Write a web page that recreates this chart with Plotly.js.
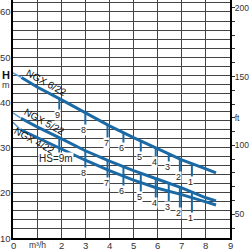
<!DOCTYPE html>
<html><head><meta charset="utf-8">
<script src="https://cdn.plot.ly/plotly-3.0.1.min.js"></script>
<style>html,body{margin:0;padding:0;background:#fff;}#c{width:250px;height:250px;}</style>
</head><body><div id="c"></div>
<script>
// Flow Q (m3/h) and head H (m)
const q6 = [0.35, 1, 2, 3, 4, 5, 6, 7, 8, 8.42];
const h6 = [45.5, 43.4, 40.6, 37.7, 34.8, 32.2, 29.8, 27.3, 25.3, 24.4];
const q6d = [0, 0.35];
const h6d = [46.5, 45.5];

const q5 = [0.33, 1, 2, 3, 4, 5, 6, 7, 8, 8.42];
const h5 = [36.5, 34.6, 32.0, 29.3, 27.0, 24.9, 23.0, 21.1, 18.9, 18.2];
const q5d = [0, 0.33];
const h5d = [37.7, 36.5];

const q4 = [0.3, 1, 2, 3, 4, 5, 6, 7, 8, 8.42];
const h4 = [34.0, 32.2, 29.8, 27.2, 24.9, 22.8, 21.0, 19.6, 18.0, 17.3];
const q4d = [0, 0.3];
const h4d = [35.6, 34.0];

// HS (suction height) markers
const hsLabels = ['9', '8', '7', '6', '5', '4', '3', '2', '1'];
const hsQ = [1.92, 3.0, 3.92, 4.58, 5.3, 5.92, 6.46, 6.92, 7.42];
const hsBottom6 = [38.3, 35.0, 32.1, 31.0, 29.0, 27.9, 26.8, 24.6, 23.5];
const hsBottom45 = [28.8, 25.5, 23.3, 21.5, 20.2, 18.8, 18.0, 16.6, 15.5];

const curveNames = ['NGX 6/22', 'NGX 5/22', 'NGX 4/22'];
const xTickVals = [0, 1, 2, 3, 4, 5, 6, 7, 8, 9];
const xTickText = ['0', 'm³/h', '2', '3', '4', '5', '6', '7', '8', '9'];
const yLabelVals = [10, 20, 30, 40, 50, 60];
const ftLabelVals = [50, 100, 120, 150, 200];
const ftLabelText = ['50', '100', 'ft', '150', '200'];

const M2FT = 3.28084;
const YMIN = 10, YMAX = 62.65;
const BLUE = '#1b6aa5';
const DASHBLUE = '#5b9bd0';
const FONT = 'Liberation Sans, Arial, sans-serif';

function interp(xs, ys, x) {
  for (let i = 0; i < xs.length - 1; i++) {
    if (x >= xs[i] && x <= xs[i + 1]) {
      const t = (x - xs[i]) / (xs[i + 1] - xs[i]);
      return ys[i] + t * (ys[i + 1] - ys[i]);
    }
  }
  return ys[ys.length - 1];
}

const traces = [];
[[q6, h6, q6d, h6d], [q5, h5, q5d, h5d], [q4, h4, q4d, h4d]].forEach(([qs, hs, qd, hd]) => {
  traces.push({x: qd, y: hd, mode: 'lines', line: {color: DASHBLUE, width: 1.5, dash: 'dash'}, hoverinfo: 'skip', showlegend: false, cliponaxis: false});
  traces.push({x: qs, y: hs, mode: 'lines', line: {color: BLUE, width: 3}, hoverinfo: 'skip', showlegend: false});
});

// marker drops
const dropX = [], dropY = [];
hsQ.forEach((q, i) => {
  dropX.push(q, q, null); dropY.push(interp(q6, h6, q), hsBottom6[i], null);
  dropX.push(q, q, null); dropY.push(interp(q5, h5, q), hsBottom45[i], null);
});
traces.push({x: dropX, y: dropY, mode: 'lines', line: {color: BLUE, width: 2}, hoverinfo: 'skip', showlegend: false});

// ft axis dummy trace
traces.push({x: [0], y: [YMIN * M2FT], yaxis: 'y2', mode: 'markers', marker: {opacity: 0}, hoverinfo: 'skip', showlegend: false});

const yGridVals = [];
for (let v = 10; v <= 62; v += 2) yGridVals.push(v);
const ftVals = [];
for (let v = 40; v <= 200; v += 10) ftVals.push(v);
const ftText = ftVals.map(v => { const k = ftLabelVals.indexOf(v); return k >= 0 ? ftLabelText[k] : ''; });

const annotations = [];
// left axis labels
yLabelVals.forEach(v => annotations.push({xref: 'paper', x: 0, y: v, xanchor: 'right', yanchor: 'middle', xshift: -1, text: String(v),
  showarrow: false, borderpad: 0, font: {family: FONT, size: 9.5, color: '#333'}}));
// bottom axis labels
xTickVals.forEach((v, i) => annotations.push({x: v, yref: 'paper', y: 0, xanchor: 'center', yanchor: 'top', yshift: -1, text: xTickText[i],
  showarrow: false, borderpad: 0, font: {family: FONT, size: i === 1 ? 8.5 : 9.5, color: '#333'}}));

hsLabels.forEach((lab, i) => {
  annotations.push({x: hsQ[i], y: hsBottom6[i], text: lab, showarrow: false, xanchor: 'center', yanchor: 'top', xshift: -1.5, yshift: 1,
    font: {family: FONT, size: 9, color: '#222'}, bgcolor: '#fff', borderpad: 0});
  annotations.push({x: hsQ[i], y: hsBottom45[i], text: i === 0 ? 'HS=9m' : lab, showarrow: false, xanchor: 'center', yanchor: 'top',
    xshift: i === 0 ? -3 : -1.5, yshift: 1,
    font: {family: FONT, size: i === 0 ? 10 : 9, color: '#222'}, bgcolor: '#fff', borderpad: 0});
});
const namePos = [[1.375, 44.3], [1.29, 35.7], [0.875, 31.5]];
curveNames.forEach((n, i) => {
  annotations.push({x: namePos[i][0], y: namePos[i][1], text: n, showarrow: false, textangle: 29,
    font: {family: FONT, size: 10, color: '#111'}});
});
annotations.push({xref: 'paper', x: 0, y: 46.1, xanchor: 'center', xshift: -7, text: '<b>H</b>', showarrow: false,
  font: {family: FONT, size: 11, color: '#111'}});
annotations.push({xref: 'paper', x: 0, y: 43.9, xanchor: 'center', xshift: -7, text: 'm', showarrow: false,
  font: {family: FONT, size: 9, color: '#333'}});
annotations.push({xref: 'paper', yref: 'paper', x: 0.04, y: -0.033, yanchor: 'top', text: '<b>Q</b>', showarrow: false, borderpad: 0,
  font: {family: FONT, size: 13, color: '#111'}});

const layout = {
  width: 250, height: 250,
  margin: {l: 13, r: 20, t: 0, b: 12, pad: 0},
  paper_bgcolor: '#fff', plot_bgcolor: '#fff',
  font: {family: FONT, size: 10, color: '#333'},
  showlegend: false,
  xaxis: {range: [0, 9], tickmode: 'array', tickvals: xTickVals, showticklabels: false, showgrid: true, gridcolor: '#444', gridwidth: 1,
    showline: true, linecolor: '#000', linewidth: 2, zeroline: false, ticks: '', fixedrange: true, automargin: false},
  yaxis: {range: [YMIN, YMAX], tickmode: 'array', tickvals: yGridVals, showticklabels: false, showgrid: true, gridcolor: '#444', gridwidth: 1,
    showline: true, linecolor: '#000', linewidth: 2, zeroline: false, ticks: '', fixedrange: true, automargin: false},
  yaxis2: {overlaying: 'y', side: 'right', range: [YMIN * M2FT, YMAX * M2FT], tickmode: 'array', tickvals: ftVals, ticktext: ftText,
    showgrid: false, zeroline: false, showline: true, linecolor: '#000', linewidth: 2, ticks: 'outside', ticklen: 3, tickcolor: '#333',
    ticklabelstandoff: -2, tickfont: {size: 8.5, color: '#333'}, fixedrange: true, automargin: false},
  annotations: annotations
};
Plotly.newPlot('c', traces, layout, {staticPlot: true, displayModeBar: false});
</script></body></html>
